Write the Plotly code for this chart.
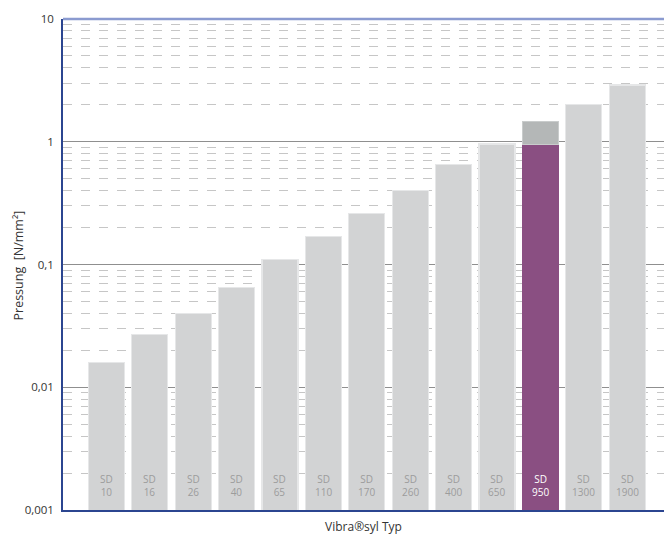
import plotly.graph_objects as go

categories = ["SD 10", "SD 16", "SD 26", "SD 40", "SD 65", "SD 110", "SD 170",
              "SD 260", "SD 400", "SD 650", "SD 950", "SD 1300", "SD 1900"]
pressure = [0.016, 0.027, 0.040, 0.065, 0.11, 0.17, 0.26, 0.40, 0.65, 0.96, 0.95, 2.0, 2.9]
extra_categories = ["SD 950"]
extra_values = [0.50]
highlight = "SD 950"
tick_vals = [0.001, 0.01, 0.1, 1, 10]
tick_text = ["0,001", "0,01", "0,1", "1", "10"]

GRAY = "#d2d3d4"
PURPLE = "#8a4f82"
TOPGRAY = "#b4b7b7"

colors = [PURPLE if c == highlight else GRAY for c in categories]
line_colors = [PURPLE if c == highlight else "#e6e7e8" for c in categories]

fig = go.Figure()
fig.add_trace(go.Bar(
    x=categories, y=pressure,
    marker=dict(color=colors, line=dict(color=line_colors, width=1.2)),
    hoverinfo="skip", showlegend=False,
))
fig.add_trace(go.Bar(
    x=extra_categories, y=extra_values,
    marker=dict(color=TOPGRAY, line=dict(color="#c9cccc", width=1)),
    hoverinfo="skip", showlegend=False,
))

annotations = []
for c in categories:
    name, num = c.split(" ")
    annotations.append(dict(
        x=c, y=-3, xref="x", yref="y", yanchor="bottom", yshift=9,
        text=f"{name}<br>{num}", showarrow=False,
        font=dict(family="Open Sans", size=10,
                  color="#ffffff" if c == highlight else "#9c9c9c"),
    ))
annotations.append(dict(
    x=0, y=0.5, xref="paper", yref="paper", xshift=-45, yshift=-1,
    xanchor="center", yanchor="middle",
    text="Pressung&nbsp;&nbsp;[N/mm²]", textangle=-90, showarrow=False,
    font=dict(family="Open Sans", size=12.5, color="#333333"),
))

fig.update_layout(
    width=664, height=535,
    margin=dict(l=63, r=0, t=19, b=25),
    paper_bgcolor="white", plot_bgcolor="white",
    barmode="stack", bargap=0.17,
    annotations=annotations,
    font=dict(family="Open Sans", color="#333333"),
    shapes=[dict(type="line", xref="paper", yref="paper", x0=0, x1=1, y0=1, y1=1,
                 line=dict(color="#8b9bd0", width=2.5), layer="above")],
)
fig.update_xaxes(
    type="category", range=[-1, 12.85], showticklabels=False, ticks="",
    showgrid=False, zeroline=False,
    showline=True, linecolor="#2b4590", linewidth=1.5,
    title=dict(text="Vibra®syl Typ", standoff=17,
               font=dict(family="Open Sans", size=12, color="#333333")),
    automargin=False,
)
fig.update_yaxes(
    type="log", range=[-3, 1], tickvals=tick_vals, ticktext=tick_text,
    tickfont=dict(family="Open Sans", size=11.5, color="#333333"),
    ticks="", ticklabelstandoff=5,
    showgrid=True, gridcolor="#8f8f8f", gridwidth=1.3,
    minor=dict(dtick="D1", showgrid=True, gridcolor="#c6c6c6", griddash="dash",
               gridwidth=1, ticks=""),
    showline=True, linecolor="#2b4590", linewidth=1.5,
    zeroline=False, automargin=False,
)

fig.write_html("out.html", config={"displayModeBar": False},
               post_script="document.body.style.margin='0';document.body.style.overflow='hidden';")
